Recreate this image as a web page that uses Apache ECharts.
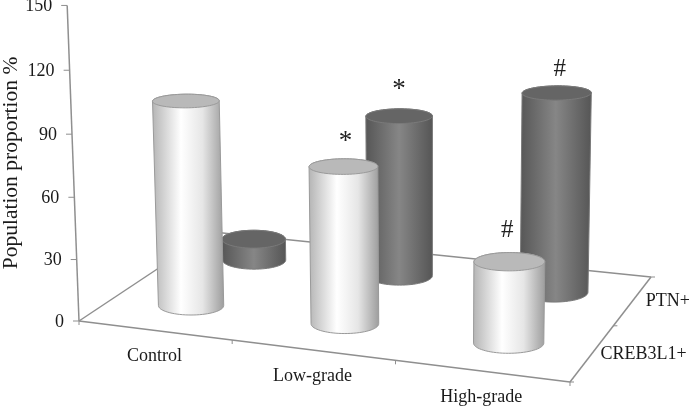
<!DOCTYPE html>
<html>
<head>
<meta charset="utf-8">
<style>
  html, body { margin: 0; padding: 0; background: #fff; }
  #main { width: 692px; height: 406px; }
</style>
<script src="https://cdn.jsdelivr.net/npm/echarts@6/dist/echarts.min.js"></script>
</head>
<body>
<div id="main"></div>
<script>
const categories = ["Control", "Low-grade", "High-grade"];
const rows = ["CREB3L1+", "PTN+"];
const crebValues = [100, 75, 38];
const ptnValues = [11, 81, 98];
const crebMarks = ["", "*", "#"];
const ptnMarks = ["", "*", "#"];
const yTicks = [0, 30, 60, 90, 120, 150];

// floor corners on screen: front-left, front-right, back-right, back-left
const floor = [[79, 321], [570, 382], [651, 277], [213, 232]];
// verticals converge on this point, heightK scales value into it
const vanish = [430, 9700];
const heightK = -0.000217;

const fontFamily = '"Liberation Serif", "Times New Roman", serif';
const [p0, p1, p2, p3] = floor;

// square to quad homography
const dx1 = p1[0] - p2[0], dx2 = p3[0] - p2[0], dx3 = p0[0] - p1[0] + p2[0] - p3[0];
const dy1 = p1[1] - p2[1], dy2 = p3[1] - p2[1], dy3 = p0[1] - p1[1] + p2[1] - p3[1];
const det = dx1 * dy2 - dx2 * dy1;
const hg = (dx3 * dy2 - dx2 * dy3) / det;
const hh = (dx1 * dy3 - dx3 * dy1) / det;
const ha = p1[0] - p0[0] + hg * p1[0], hb = p3[0] - p0[0] + hh * p3[0];
const hd = p1[1] - p0[1] + hg * p1[1], he = p3[1] - p0[1] + hh * p3[1];

// u: 0..3 along categories, v: 0..2 into depth, val: axis value
function project(u, v, val) {
  const s = u / 3, t = v / 2;
  const w = hg * s + hh * t + 1 + heightK * val;
  return [
    (ha * s + hb * t + p0[0] + heightK * val * vanish[0]) / w,
    (hd * s + he * t + p0[1] + heightK * val * vanish[1]) / w,
  ];
}

// read u and value back out of the (hidden) cartesian axes
function fromAxes(api, params, cat, val) {
  const pt = api.coord([cat, val]);
  const cs = params.coordSys;
  return {
    u: ((pt[0] - cs.x) / cs.width) * categories.length,
    val: ((cs.y + cs.height - pt[1]) / cs.height) * 150,
  };
}

function hull(points) {
  const pts = points.slice().sort((a, b) => a[0] - b[0] || a[1] - b[1]);
  const cross = (o, a, b) => (a[0] - o[0]) * (b[1] - o[1]) - (a[1] - o[1]) * (b[0] - o[0]);
  const lower = [], upper = [];
  pts.forEach((p) => {
    while (lower.length > 1 && cross(lower[lower.length - 2], lower[lower.length - 1], p) <= 0) lower.pop();
    lower.push(p);
  });
  pts.reverse().forEach((p) => {
    while (upper.length > 1 && cross(upper[upper.length - 2], upper[upper.length - 1], p) <= 0) upper.pop();
    upper.push(p);
  });
  return lower.slice(0, -1).concat(upper.slice(0, -1));
}

// footprint circle: keep its ellipse level on screen by undoing the floor's skew
function ring(u, v, val) {
  const c = project(u, v, 0), du = project(u + 0.01, v, 0), dv = project(u, v + 0.01, 0);
  const a = (du[0] - c[0]) / 0.01, b = (dv[0] - c[0]) / 0.01;
  const e = (du[1] - c[1]) / 0.01, f = (dv[1] - c[1]) / 0.01;
  const d = a * f - b * e;
  const rx = 14 + 0.125 * a, ry = 0.29 * rx;
  const out = [];
  for (let i = 0; i < 72; i++) {
    const ang = (i / 72) * Math.PI * 2;
    const sx = rx * Math.cos(ang), sy = ry * Math.sin(ang);
    out.push(project(u + (f * sx - b * sy) / d, v + (a * sy - e * sx) / d, val));
  }
  return out;
}

function cylinderItem(rowIndex, marks, look) {
  return (params, api) => {
    const cat = api.value(0);
    const pos = fromAxes(api, params, cat, api.value(1));
    const v = rowIndex + 0.5;
    const u = pos.u + 0.012;
    const bottom = ring(u, v, 0);
    const top = ring(u, v, pos.val);
    const head = project(u, v, pos.val);
    const children = [
      {
        type: "polygon",
        shape: { points: hull(bottom.concat(top)) },
        style: {
          fill: new echarts.graphic.LinearGradient(0, 0, 1, 0, look.side),
          stroke: look.edge,
          lineWidth: 1,
        },
      },
      {
        type: "polygon",
        shape: { points: top },
        style: { fill: look.top, stroke: look.edge, lineWidth: 1 },
      },
    ];
    if (marks[cat]) {
      const shift = look.markShift[cat];
      children.push({
        type: "text",
        style: {
          text: marks[cat],
          x: head[0] + shift[0],
          y: head[1] + shift[1],
          fontFamily,
          fontSize: marks[cat] === "*" ? 27 : 25,
          fill: "#222",
          align: "center",
          verticalAlign: "middle",
        },
      });
    }
    return { type: "group", children };
  };
}

function frameItem(params, api) {
  const lineStyle = { stroke: "#8f8f8f", lineWidth: 1.5, fill: null };
  const line = (a, b, w) => ({
    type: "line",
    shape: { x1: a[0], y1: a[1], x2: b[0], y2: b[1] },
    style: Object.assign({}, lineStyle, w ? { lineWidth: w } : {}),
  });
  const label = (text, x, y, align) => ({
    type: "text",
    style: {
      text, x, y, fontFamily, fontSize: 18, fill: "#1a1a1a",
      align: align || "center", verticalAlign: "middle",
    },
  });
  const children = [];

  // floor outline and value axis
  floor.forEach((c, i) => children.push(line(c, floor[(i + 1) % 4])));
  const axisTop = project(0, 0, fromAxes(api, params, 0, 150).val);
  children.push(line(floor[0], axisTop));

  yTicks.forEach((t) => {
    const p = project(0, 0, fromAxes(api, params, 0, t).val);
    children.push(line([p[0] - 6, p[1]], [p[0], p[1]], 1));
    children.push(label(String(t), p[0] - 15, p[1] + 1, "right"));
  });

  // category ticks along the front edge
  for (let u = 0; u <= categories.length; u++) {
    const p = project(u, 0, 0);
    children.push(line(p, [p[0], p[1] + 4], 1));
  }
  categories.forEach((name, i) => {
    const p = project(i + 0.5, 0, 0);
    children.push(label(name, p[0], p[1] + 26));
  });

  // depth ticks and labels along the right edge
  for (let v = 0; v <= rows.length; v++) {
    const p = project(categories.length, v, 0);
    children.push(line(p, [p[0] + 4, p[1]], 1));
  }
  const depthOffset = [51, 35];
  rows.forEach((name, i) => {
    const p = project(categories.length, i + 0.5, 0);
    children.push(label(name, p[0] + depthOffset[i], p[1] + 1));
  });

  children.push({
    type: "text",
    rotation: Math.PI / 2,
    x: 11,
    y: 163,
    style: {
      text: "Population proportion %",
      x: 0, y: 0, fontFamily, fontSize: 21.5, fill: "#1a1a1a",
      align: "center", verticalAlign: "middle",
    },
  });
  return { type: "group", children };
}

const lightLook = {
  side: [
    { offset: 0, color: "#b4b4b4" },
    { offset: 0.4, color: "#ffffff" },
    { offset: 0.7, color: "#e6e6e6" },
    { offset: 1, color: "#9c9c9c" },
  ],
  top: "#b9b9b9",
  edge: "#9a9a9a",
  markShift: [[0, 0], [2, -25], [-2, -31]],
};
const darkLook = {
  side: [
    { offset: 0, color: "#565656" },
    { offset: 0.5, color: "#868686" },
    { offset: 1, color: "#555555" },
  ],
  top: "#656565",
  edge: "#7a7a7a",
  markShift: [[0, 0], [0, -26], [3, -23]],
};

const myChart = echarts.init(document.getElementById("main"), null, { renderer: "canvas" });
myChart.setOption({
  animation: false,
  backgroundColor: "#ffffff",
  grid: { left: 0, right: 0, top: 0, bottom: 0 },
  xAxis: { type: "category", data: categories, show: false },
  yAxis: { type: "value", min: 0, max: 150, interval: 30, show: false },
  series: [
    {
      type: "custom",
      name: "frame",
      silent: true,
      clip: false,
      renderItem: frameItem,
      data: [[0, 0]],
      z: 1,
    },
    {
      type: "custom",
      name: rows[1],
      silent: true,
      clip: false,
      renderItem: cylinderItem(1, ptnMarks, darkLook),
      data: ptnValues.map((val, i) => [i, val]),
      z: 2,
    },
    {
      type: "custom",
      name: rows[0],
      silent: true,
      clip: false,
      renderItem: cylinderItem(0, crebMarks, lightLook),
      data: crebValues.map((val, i) => [i, val]),
      z: 3,
    },
  ],
});
</script>
</body>
</html>
